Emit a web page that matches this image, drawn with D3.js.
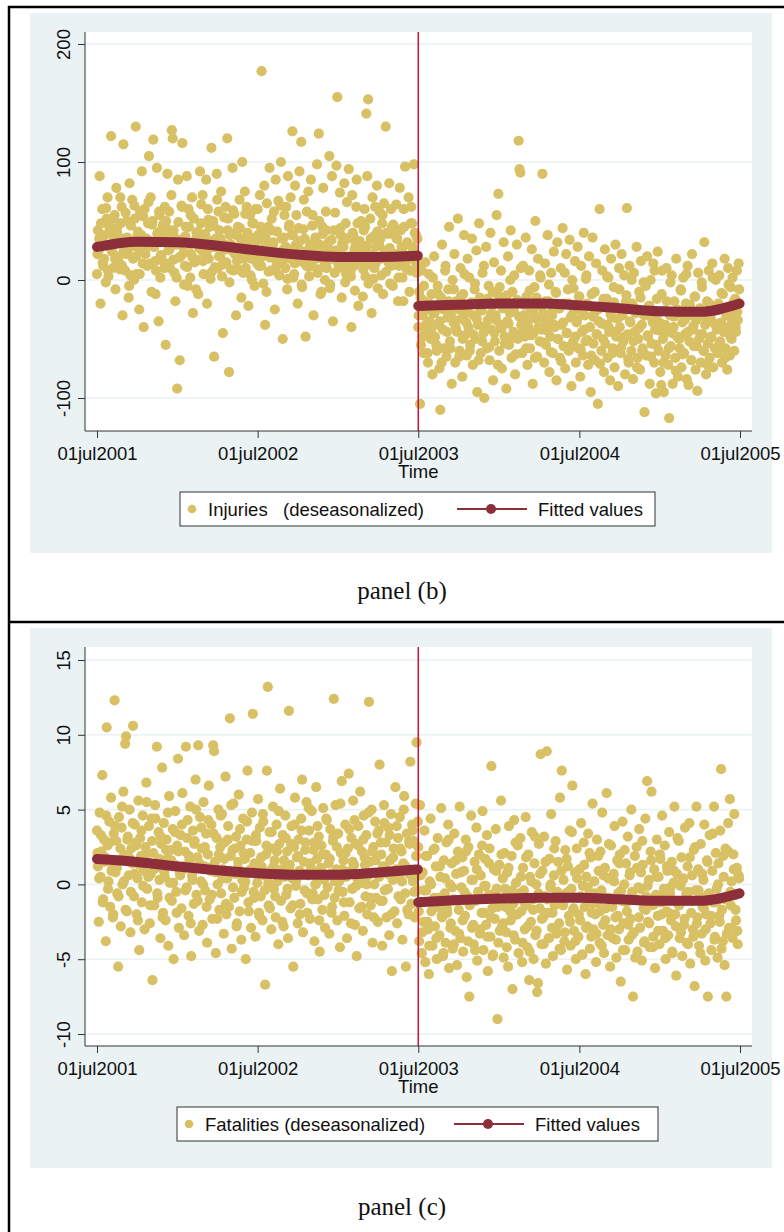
<!DOCTYPE html>
<html>
<head>
<meta charset="utf-8">
<script src="https://cdn.jsdelivr.net/npm/d3@7"></script>
<style>
  body { margin: 0; background: #fff; }
  svg { display: block; }
</style>
</head>
<body>
<svg id="chart" width="784" height="1232"></svg>
<script>
// x tick dates and labels
let tickDates = ["2001-07-01", "2002-07-01", "2003-07-01", "2004-07-01", "2005-07-01"]
let tickLabels = ["01jul2001", "01jul2002", "01jul2003", "01jul2004", "01jul2005"]
let breakDate = "2003-07-01"

// panel (b): injuries, deseasonalized (one value every 2 days)
let injuriesPre = [
  5, 42, 25, 88, -20, 30, 60, 12, 18, 38, -2, 52, 70, 3, 45, 28, 122, 24, 10, 33,
  55, -8, 78, 40, 20, 15, 9, 48, 62, -30, 115, 35, 8, 22, 50, 25, -15, 82, 4, 30,
  68, 18, 0, 52, 130, 5, 38, 27, -25, 58, 27, 92, 14, -40, 60, 22, 35, 12, 48, 105,
  33, 70, -10, 50, 119, 28, 16, 8, 95, 40, -35, 55, 2, 20, 44, 47, 15, 62, -55, 37,
  90, 25, 58, 10, 30, 127, 120, 42, 6, -18, 30, -92, 85, 19, -68, 20, 63, 116, 35, -4,
  12, 45, 88, -5, 60, 30, 2, 22, 70, -28, 52, 15, 34, 40, 17, -12, 35, 92, 48, 25,
  72, 5, 23, 38, 85, -20, 60, 18, 45, 1, 112, 28, 50, -65, 11, 35, 90, 10, 58, 42,
  20, 75, 3, -45, 28, 30, 62, 15, 120, 52, -78, 38, 9, 25, 95, 8, 56, 40, -30, 16,
  45, 22, 68, 35, -15, 100, 6, 28, 75, 10, 62, 40, -22, 31, 55, 18, 0, 32, 48, -5,
  60, 25, 14, 38, 12, 72, 45, 177, 20, -3, 80, -38, 35, 65, 28, 7, 95, 8, 42, 21,
  30, 58, -25, 85, 13, 15, 67, 4, 22, 100, 35, -50, 26, 55, 10, 62, -8, 88, 45, 18,
  70, 38, 126, 2, 5, 80, 30, 19, -20, 44, 92, 25, 117, -6, 15, 68, 35, -48, 12, 20,
  75, 3, 28, 85, 12, 55, -30, 24, 36, 18, 98, 9, 124, 30, -12, -10, 45, 78, 22, 0,
  58, 10, 16, 32, 105, -4, 20, 88, -35, 42, 6, 25, 97, 155, 14, 15, 74, 38, -15, 11,
  28, 82, -2, 5, 66, 35, 94, 20, 7, -40, 72, 38, 12, -9, 30, 85, 48, -22, 26, 25,
  50, 15, -14, 42, 60, 3, 141, 88, 153, 22, 13, 35, -28, 70, 1, 10, 62, 28, 80, -7,
  18, 58, 35, 4, 48, -12, 65, 25, 130, 40, 19, 15, 82, -3, 60, 45, -5, 14, 38, 22,
  64, 35, -18, 12, 78, 42, 28, 2, -18, 45, 96, 30, 9, 20, 70, -10, 8, 62, 48, 25,
  98, 40, 15, 6, 35
]
let injuriesPost = [
  -40, -10, -105, -55, 8, -30, -62, -18, 15, -45, -25, -70, 5, -35, -50, -12, -80, -28, 20, -48,
  -22, -60, -5, -38, -75, -110, -15, 30, -42, -58, -20, 12, -65, -32, -8, 45, -52, -27, -88, 0,
  -36, 22, -70, -18, -44, 52, -25, -60, 10, -33, -82, -12, 38, -47, -28, -64, 18, -40, 2, -55,
  -20, 35, -72, -30, -8, -50, 25, -95, -38, 48, -15, -62, -26, 6, -45, -100, -18, 28, -58, -34,
  -5, -68, 40, -42, -22, -85, 15, -52, -30, 55, -12, 73, -60, -38, 8, -75, -24, 32, -48, -16,
  -92, -35, 20, -55, -28, 42, -66, -10, -44, 4, -80, -20, 30, -50, 118, 94, 91, -38, -62, 12,
  -30, -48, 36, -14, -72, -40, 8, -58, -25, 26, -88, -45, -6, 50, -33, -65, 18, -22, -52, 2,
  -42, 90, -28, -70, 14, -55, -36, 38, -18, -78, -48, 6, -30, -62, 24, -40, -10, -85, 32, -50,
  -24, -66, 10, -38, 44, -56, -20, -75, 22, -45, -8, -60, 34, -32, -90, 0, -52, -26, 16, -70,
  -36, 28, -58, -14, -82, 12, -44, -64, 40, -30, -52, 4, -20, -72, 20, -40, -95, -12, 36, -54,
  -28, -68, 14, -46, -105, -35, 60, -22, -60, 8, -50, -78, 26, -38, -16, -66, 2, -44, -85, 18,
  -32, -58, -6, -74, 30, -48, -24, -90, 10, -40, -62, 22, -30, -52, 4, -80, -18, 61, -46, -70,
  12, -36, -60, -20, -84, 6, -44, -28, 28, -66, -50, -10, -76, 16, -38, -58, -2, -112, -30, -64,
  20, -48, -22, -88, 0, -54, -34, 14, -70, -42, -96, -16, 24, -60, -36, -78, -89, 8, -50, -95,
  -26, -64, 10, -44, -72, -117, -30, -56, 4, -88, -40, -18, -66, 18, -48, -82, -28, -58, -8, -74,
  -36, 2, -62, -46, -20, -84, 12, -89, -52, -30, -68, 22, -42, -56, -14, -76, -34, -94, 6, -50,
  -24, -70, -2, -46, -60, 32, -38, -80, -18, -54, 8, -66, -32, -48, 14, -74, -26, -58, 0, -42,
  -62, -20, 4, -52, -36, -70, -12, -44, 18, -58, -30, -76, 10, -40, -64, -6, -50, 2, -28, -60,
  -16, -44, 8, -34, 14
]
// the remaining days, read from the dense core (one value every 4 days, offset by 1 day)
let injuriesPreExtra = [
  22, 35, 48, 15, 30, 61, 8, 40, 27, 52, 18, 44, 33, 70, 12, 25, 57, 36, -5, 46,
  29, 63, 20, 41, 5, 38, 54, 24, 31, 66, 14, 47, 28, -12, 39, 58, 21, 34, 10, 50,
  43, 26, 72, 17, 36, 2, 49, 30, 62, 23, 37, 11, 45, 55, 19, 32, -8, 41, 27, 64,
  16, 39, 24, 51, 33, 7, 46, 28, 68, 20, 35, 13, 53, 26, 42, -2, 30, 59, 22, 38,
  9, 44, 31, 18, 56, 25, 37, 4, 48, 29, 21, 60, 34, 12, 40, 27, -10, 45, 19, 52,
  32, 8, 41, 23, 63, 16, 36, 28, 1, 47, 26, 38, 14, 55, 20, 33, -4, 43, 24, 58,
  11, 30, 46, 19, 35, 6, 50, 22, 39, 15, 42, 27, -7, 34, 18, 57, 25, 10, 44, 31,
  20, 48, 13, 36, 3, 40, 26, 62, 17, 33, 24, 9, 45, 29, -3, 52, 21, 37, 14, 41,
  30, 18, 55, 23, 7, 39, 27, 12, 47, 20, 35, 2, 43, 26, 60, 15, 32, 19, 48, 28,
  22, 38, 10
]
let injuriesPostExtra = [
  -30, -15, -48, -5, -38, -62, -20, -42, 2, -28, -55, -12, -35, -70, -25, 8, -44, -18, -58, -32,
  -8, -40, -22, -65, -14, -50, 5, -36, -27, -60, -19, -46, -3, -33, -68, -24, -52, 12, -39, -16,
  -57, -29, -10, -45, -34, -72, -6, -41, -23, -54, -13, -37, 0, -49, -26, -63, -17, -31, 10, -44,
  -21, -58, -35, -9, -47, -28, -66, -15, -40, 4, -32, -53, -18, -43, -4, -61, -26, -38, -11, -50,
  -24, -69, -36, 6, -45, -20, -56, -30, -7, -48, -34, -14, -59, -27, -42, 1, -51, -22, -64, -31,
  -10, -46, -25, -71, -37, -16, -54, 3, -40, -29, -62, -19, -44, -33, -8, -57, -26, -48, -13, -67,
  -35, 0, -52, -24, -74, -41, -15, -60, -30, -5, -47, -22, -65, -36, 8, -55, -28, -43, -12, -70,
  -38, -18, -58, -2, -45, -31, -77, -25, -50, -9, -63, -34, 5, -44, -21, -68, -39, -14, -56, -28,
  -46, -6, -60, -32, -72, -20, -49, 2, -37, -58, -25, -53, -11, -42, -66, -30, -4, -48, -35, -18,
  -40, -27, -8
]

// panel (c): fatalities, deseasonalized (one value every 2 days)
let fatalitiesPre = [
  3.6, 1.2, -2.5, 4.8, 0.5, 2.2, 7.3, -1.0, 3.0, 1.8, -3.8, 10.5, 2.6, 0.2, 4.2, -1.5, 5.8, 1.0, -2.2, 3.4,
  12.3, 0.8, 2.9, -0.6, -5.5, 4.5, 1.6, -2.8, 3.8, 0.0, 6.2, 2.0, 9.4, 9.9, -1.8, 3.2, 0.6, 5.0, -3.2, 2.4,
  1.4, 10.6, -0.8, 4.0, 2.8, -2.0, 0.4, 5.6, -4.4, 3.1, 1.9, -1.2, 4.6, 0.9, -3.0, 2.5, 6.8, -0.3, 1.5, 3.9,
  -2.6, 0.7, 4.4, -6.4, 2.1, -1.4, 5.3, 1.1, 9.2, -0.9, 3.5, 0.3, -3.6, 2.7, 7.8, -1.9, 4.1, 0.5, -2.4, 3.0,
  1.7, -4.1, 5.9, 0.1, 2.3, -1.1, 3.7, -5.0, 1.3, 4.9, -0.5, 2.6, 8.4, -2.9, 0.8, 3.3, -1.6, 6.1, 1.0, -3.4,
  2.2, 9.2, -0.2, 4.3, -2.1, 1.6, 5.2, -4.8, 0.6, 3.6, -1.3, 2.9, 7.0, -0.7, 1.8, 9.3, -3.1, 4.5, 0.2, 2.4,
  -2.7, 5.5, 1.2, -0.4, 3.4, -3.9, 2.0, 6.6, -1.0, 0.9, 4.0, -2.3, 9.3, 8.9, 1.5, -4.6, 3.1, 0.0, 5.0, -1.7,
  2.5, -0.6, 4.7, 1.0, -3.3, 2.8, 7.2, -2.0, 0.4, 3.9, -1.5, 11.1, 1.9, -4.3, 2.3, 5.4, -0.9, 0.7, 3.2, -2.6,
  1.1, 6.0, -1.8, 2.6, -3.7, 0.3, 4.4, -0.2, 1.7, -5.0, 3.0, 7.6, -1.2, 0.8, 2.1, -2.9, 4.8, 11.4, -0.5, 1.4,
  -3.5, 2.9, 0.1, 5.7, -1.9, 3.8, -0.8, 1.2, -2.4, 4.2, 0.6, -6.7, 2.0, 7.6, 13.2, -1.4, 3.5, 0.9, -3.0, 2.4,
  5.2, -0.3, 1.6, -2.2, 4.0, 0.2, -4.0, 2.7, 6.4, -1.1, 1.0, 3.3, -2.8, 0.5, 4.6, -0.7, 2.2, -3.6, 11.6, 1.3,
  -1.6, 3.9, 0.4, -5.5, 2.5, 5.8, -0.1, 1.8, -2.6, 3.0, 0.9, -1.3, 4.4, 7.0, -3.2, 1.5, -0.4, 2.8, 5.5, -1.9,
  0.6, 3.6, -2.3, 1.1, 4.9, -0.6, 2.3, -3.8, 0.0, 6.5, 1.7, -1.0, 3.2, -4.5, 0.8, 2.6, -1.7, 5.1, 0.3, -2.9,
  2.0, 4.3, -0.2, 1.4, -3.3, 3.7, 0.7, -1.5, 2.9, 12.4, -0.9, 5.3, 1.0, -2.4, 3.4, 0.2, -4.2, 2.1, 6.9, -0.5,
  1.6, -2.1, 4.0, 0.5, -3.6, 2.4, 7.4, -1.2, 0.9, 3.1, -0.3, 5.6, 1.3, -2.7, 2.7, -4.8, 0.4, 3.9, -1.6, 6.2,
  0.1, 2.2, -3.1, 4.6, 1.8, -0.8, 3.3, -2.0, 0.6, 12.2, 1.5, -1.4, 5.0, -3.9, 2.5, 0.0, 4.2, -0.9, 1.9, -2.5,
  3.6, 8.0, -1.1, 2.0, -4.1, 1.2, 5.3, -0.4, 2.8, -2.2, 0.7, 3.8, -3.4, 1.6, 4.7, -5.8, 0.3, 2.4, -1.8, 6.5,
  1.0, -2.6, 3.1, 0.5, 4.5, -1.0, 2.2, -3.7, 1.4, 5.9, -0.6, -5.5, 3.4, 0.8, -2.0, 2.7, 8.2, -1.3, 4.0, 0.2,
  2.9, -2.2, 5.4, 9.5, -0.4
]
let fatalitiesPost = [
  2.5, -3.8, 5.3, -1.2, -4.6, 0.8, -2.5, 3.6, -5.2, -0.4, 1.9, -3.0, -6.0, 0.2, 4.4, -1.8, -4.1, 2.3, -0.9, -2.8,
  1.2, -5.0, 3.1, -1.5, -3.4, 0.5, 5.1, -2.2, -4.8, 1.6, -0.6, -3.9, 2.8, -1.9, 4.0, -5.6, 0.0, -2.6, 1.4, -4.3,
  -1.0, 3.4, -3.1, 0.7, -5.4, 2.2, -1.7, 5.2, -3.6, -0.2, 1.8, -4.5, 0.9, -2.1, 3.0, -6.2, -0.8, 2.5, -7.5, -1.3,
  4.6, -2.9, 0.3, -4.0, 1.5, -1.1, 3.8, -5.1, -0.5, 2.0, -3.3, 0.6, -1.9, 4.9, -4.4, -0.1, 1.7, -2.7, 3.3, -5.8,
  -0.7, 2.4, -3.5, 7.9, -1.6, -4.7, 1.0, -2.3, 3.7, -0.3, -9.0, -3.9, 1.3, -1.2, 5.6, -2.8, 0.4, -4.9, 2.1, -1.5,
  -3.2, 0.8, -5.5, 3.9, -0.9, -2.4, 1.9, -7.0, -1.3, 4.3, -3.7, 0.1, -2.0, 2.6, -4.6, -0.6, 3.1, -1.8, -5.2, 1.1,
  -0.4, -3.0, 4.5, -1.4, -4.2, 2.0, -6.4, 0.5, -2.5, 3.5, -1.0, -5.0, 1.4, -3.4, 0.0, -7.2, -6.6, 2.7, -1.6, 8.7,
  -4.0, 0.9, -2.2, 3.2, -0.8, -5.3, 8.9, -1.9, -3.6, 1.7, -0.2, 4.7, -2.9, -4.8, 0.6, -1.4, 2.9, -3.3, -0.5, 1.5,
  -2.6, 5.8, -4.4, 7.6, -1.1, 0.3, -3.8, 2.3, -0.6, -5.7, 1.2, -2.1, 3.6, -4.1, -0.3, 6.6, -1.7, -3.1, 0.8, -5.0,
  2.4, -0.9, -3.5, 1.0, -2.4, 4.1, -4.7, -0.1, 2.8, -1.5, -6.0, 0.5, -2.8, 3.4, -0.7, -4.3, 1.8, -1.9, 5.4, -3.0,
  0.2, -2.0, -5.2, 3.0, -1.2, 0.9, -3.9, 2.2, -0.4, 4.8, -2.7, -4.6, 1.1, -1.6, 6.1, -3.4, 0.4, -0.9, -5.5, 2.6,
  -1.3, -3.6, 0.7, 3.9, -2.2, -4.9, 1.6, -0.6, -3.0, 2.0, -6.5, -1.1, 4.2, -2.6, 0.0, -4.4, 1.4, -1.8, 3.2, -3.7,
  0.6, -2.3, 5.0, -0.5, -7.5, -3.2, 1.9, -1.0, 2.5, -4.5, -0.2, 3.7, -2.9, 0.8, -5.1, 1.3, -1.6, -3.8, 4.4, -0.8,
  6.9, -2.5, 0.3, -4.2, 2.2, 6.2, -1.4, -3.5, 1.0, -5.6, -0.7, 3.0, -2.1, 0.5, -4.0, 1.7, -1.2, 4.6, -3.1, -0.3,
  2.6, -5.0, -1.8, 0.9, -3.4, 3.5, -0.6, -2.4, 1.5, -4.6, 0.1, 5.2, -2.0, -6.1, 0.7, -1.3, 2.9, -3.6, -0.1, 1.8,
  -4.8, 0.4, -2.7, 3.8, -1.1, -3.9, 1.2, -0.5, 4.1, -5.3, -1.9, 0.6, -3.0, 2.3, -6.8, -0.4, 5.2, -2.2, 1.0, -4.1,
  -0.8, 2.7, -3.3, -1.5, 0.3, 4.0, -5.1, -2.0, 1.6, -7.5, -0.6, 3.3, -2.6, -4.4, 0.9, -1.2, 5.2, -3.5, 2.1, -0.3,
  -4.9, 1.4, -2.1, 3.6, 7.7, -1.7, -3.8, 0.5, -5.4, 2.4, -7.5, -0.9, 4.1, -2.9, 5.7, -1.4, 0.2, -3.6, 2.0, 4.7,
  -0.7, -2.4, 1.1, -4.0, 0.6
]
let fatalitiesPreExtra = [
  2.1, 0.4, 3.3, -1.2, 1.5, 4.6, -0.3, 2.8, 0.9, -2.0, 3.9, 1.1, -0.8, 2.4, 5.2, 0.2, -1.7, 3.0, 1.8, -0.5,
  4.1, 0.7, 2.6, -2.4, 1.3, 3.6, -0.1, 2.0, 5.5, 0.5, -1.4, 2.9, 1.0, 4.4, -0.6, 1.7, 3.2, -2.2, 0.8, 2.3,
  4.8, -0.9, 1.6, 0.1, 3.5, -1.9, 2.2, 0.6, 4.0, 1.2, -0.4, 3.1, 1.9, -2.6, 0.3, 2.7, 5.0, -1.1, 1.4, 3.8,
  0.0, 2.5, -1.5, 4.3, 1.1, -0.7, 3.4, 0.8, -2.3, 2.0, 4.6, 0.4, 1.7, -1.3, 3.0, 0.9, 5.3, -0.2, 2.4, -2.8,
  1.5, 3.7, -0.5, 2.1, 0.2, 4.2, -1.8, 1.0, 2.9, -0.9, 3.3, 0.6, -2.1, 1.8, 4.7, -0.4, 2.6, 0.1, -1.6, 3.5,
  1.2, -0.8, 2.2, 4.9, 0.5, -2.5, 1.6, 3.1, -0.3, 0.9, 2.7, -1.4, 4.0, 0.3, 1.9, -2.0, 3.6, 0.7, 2.3, -0.6,
  5.1, 1.4, -1.0, 2.8, 0.0, 3.9, -2.4, 1.1, 2.0, -0.7, 4.4, 0.6, 1.7, -1.9, 3.2, 0.2, 2.5, -0.4, 5.4, 1.0,
  -1.2, 2.1, 0.8, 3.7, -2.6, 1.5, 4.3, -0.1, 2.6, 0.4, -1.5, 3.0, 1.3, 0.0, 4.8, -0.9, 2.2, -2.2, 1.6, 3.4,
  0.5, 2.8, -1.1, 4.1, 1.0, -0.3, 3.3, -2.0, 1.8, 0.7, 3.9, -0.8, 2.4, 0.2, 5.0, 1.2, -1.7, 2.9, 0.6, 3.6,
  -0.5, 1.9, 4.2
]
let fatalitiesPostExtra = [
  -1.8, 0.6, -3.2, -0.4, 1.9, -2.5, -4.1, 0.0, -1.3, 2.4, -3.6, -0.9, 1.2, -2.1, -4.6, 0.4, -1.6, 3.0, -2.9, -0.2,
  -4.0, 1.6, -1.1, -3.3, 0.8, -2.4, -0.5, 2.2, -3.8, -1.4, 0.3, -2.7, -4.4, 1.0, -0.8, -3.0, 2.6, -1.9, -0.1, -3.5,
  1.4, -2.2, -4.8, -0.6, 0.9, -1.5, -3.1, 2.0, -2.6, -0.3, -4.2, 1.1, -1.8, -0.4, -3.4, 2.8, -2.0, -0.9, 0.5, -3.9,
  -1.2, 1.8, -2.8, -4.5, 0.2, -1.7, 3.2, -3.1, -0.6, 0.7, -2.3, -4.0, 1.5, -1.0, -3.6, 0.0, -1.9, 2.4, -2.9, -0.7,
  -4.3, 0.9, -1.4, -3.2, 1.7, -0.5, -2.5, 3.5, -1.6, -3.8, 0.4, -2.0, -0.8, -4.7, 1.3, -2.9, -0.2, 2.1, -3.5, -1.3,
  -0.6, -3.3, 1.9, -1.8, -4.1, 0.6, -2.4, -0.9, 2.7, -3.0, -1.5, 0.2, -3.7, -2.1, 1.4, -0.4, -4.4, 2.3, -1.2, -2.7,
  0.8, -3.4, -1.0, -4.9, 1.1, -2.2, -0.3, 2.9, -3.9, -1.7, -0.1, -2.6, 1.6, -4.2, -1.3, 0.5, -3.1, 2.0, -2.0, -0.8,
  -3.6, 1.2, -1.9, -0.2, -4.5, 0.9, -2.8, 3.1, -1.4, -3.2, 0.3, -2.3, -0.6, -4.0, 1.8, -1.1, -3.5, 2.5, -2.6, -0.4,
  -4.6, 0.7, -1.6, -3.0, 1.5, -0.7, -2.1, 3.4, -3.7, -1.2, 0.0, -2.5, -4.3, 1.9, -1.0, -3.3, 2.2, -0.5, -2.9, 1.0,
  -1.7, -3.1, 0.4
]

// fitted values, read at quarterly points on each side of the break
let fitPreDates = ["2001-07-01", "2001-10-01", "2002-01-01", "2002-04-01", "2002-07-01", "2002-10-01", "2003-01-01", "2003-04-01", "2003-06-30"]
let fitPostDates = ["2003-07-01", "2003-10-01", "2004-01-01", "2004-04-01", "2004-07-01", "2004-10-01", "2005-01-01", "2005-04-01", "2005-06-30"]
let fitInjuriesPre = [28, 32.5, 32, 29, 25, 21.5, 19.5, 19.5, 20.5]
let fitInjuriesPost = [-22, -21, -20, -20, -21.5, -24, -26.5, -27, -20]
let fitFatalitiesPre = [1.7, 1.5, 1.2, 0.95, 0.75, 0.65, 0.65, 0.8, 1.0]
let fitFatalitiesPost = [-1.2, -1.05, -0.95, -0.9, -0.9, -1.0, -1.1, -1.1, -0.6]

let injuriesTicks = [-100, 0, 100, 200]
let fatalitiesTicks = [-10, -5, 0, 5, 10, 15]

let parseDate = d3.timeParse("%Y-%m-%d")
let pointColor = "#d8c064"
let fitColor = "#8c2f3b"
let breakColor = "#c8143c"
let bgColor = "#eaf2f3"
let fontSans = "'Liberation Sans', Arial, sans-serif"

let svg = d3.select("#chart")

// values -> {date, value}, one value every `step` days from `startDate`
function seriesPoints(values, startDate, step) {
    let start = parseDate(startDate)
    return values.map(function (v, i) {
        return { date: d3.timeDay.offset(start, i * step), value: v }
    })
}

function fitPoints(dates, values) {
    return dates.map(function (d, i) {
        return { date: parseDate(d), value: values[i] }
    })
}

function DrawPanel(opt) {
    let g = svg.append("g").attr("transform", "translate(0," + opt.top + ")")

    // graph region and plot region
    g.append("rect")
        .attr("x", 30).attr("y", 6)
        .attr("width", 742).attr("height", 540)
        .style("fill", bgColor)
    g.append("rect")
        .attr("x", 85).attr("y", 25)
        .attr("width", 667).attr("height", 399)
        .style("fill", "#fff")

    let x = d3.scaleTime()
        .domain([parseDate(tickDates[0]), parseDate(tickDates[4])])
        .range([97, 740])
    let y = d3.scaleLinear()
        .domain(opt.yDomain)
        .range(opt.yRange)

    // gridlines
    g.selectAll(".grid")
        .data(opt.ticks)
        .enter()
        .append("line")
        .attr("x1", 85).attr("x2", 752)
        .attr("y1", function (d) { return y(d) })
        .attr("y2", function (d) { return y(d) })
        .style("stroke", bgColor)
        .style("stroke-width", 1.6)

    // scatter
    let pts = seriesPoints(opt.preExtra, "2001-07-02", 4)
        .concat(seriesPoints(opt.postExtra, "2003-07-02", 4))
        .concat(seriesPoints(opt.pre, tickDates[0], 2))
        .concat(seriesPoints(opt.post, breakDate, 2))
    g.selectAll(".dot")
        .data(pts)
        .enter()
        .append("circle")
        .attr("cx", function (d) { return x(d.date) })
        .attr("cy", function (d) { return y(d.value) })
        .attr("r", 5.1)
        .style("fill", pointColor)

    // break line
    g.append("line")
        .attr("x1", x(parseDate(breakDate))).attr("x2", x(parseDate(breakDate)))
        .attr("y1", 25).attr("y2", 424)
        .style("stroke", breakColor)
        .style("stroke-width", 1.5)

    // fitted values
    let fPre = fitPoints(fitPreDates, opt.fitPre)
    let fPost = fitPoints(fitPostDates, opt.fitPost)
    let line = d3.line()
        .x(function (d) { return x(d.date) })
        .y(function (d) { return y(d.value) })
        .curve(d3.curveMonotoneX)
    g.append("path")
        .attr("d", d3.line().x(function (d) { return x(d.date) }).y(function (d) { return y(d.value) })([fPre[fPre.length - 1], fPost[0]]))
        .style("fill", "none")
        .style("stroke", fitColor)
        .style("stroke-width", 1.8)
    ;[fPre, fPost].forEach(function (seg) {
        g.append("path")
            .attr("d", line(seg))
            .style("fill", "none")
            .style("stroke", fitColor)
            .style("stroke-width", 10)
            .style("stroke-linecap", "round")
    })

    // axes
    let yAxis = d3.axisLeft(y).tickValues(opt.ticks).tickSize(7).tickFormat(function (d) { return String(d) })
    let gy = g.append("g").attr("transform", "translate(85,0)").call(yAxis)
    gy.select(".domain").attr("d", "M0,25V424").style("stroke", "#333")
    gy.selectAll(".tick line").style("stroke", "#333")
    gy.selectAll(".tick text")
        .attr("x", null).attr("dy", null)
        .attr("transform", "translate(-15,0) rotate(-90)")
        .attr("text-anchor", "middle")
        .style("font-family", fontSans)
        .style("font-size", "18.5px")
        .style("fill", "#111")

    let xAxis = d3.axisBottom(x)
        .tickValues(tickDates.map(parseDate))
        .tickSize(7)
        .tickFormat(function (d, i) { return tickLabels[i] })
    let gx = g.append("g").attr("transform", "translate(0,424)").call(xAxis)
    gx.select(".domain").attr("d", "M85,0H752").style("stroke", "#333")
    gx.selectAll(".tick line").style("stroke", "#333")
    gx.selectAll(".tick text")
        .attr("y", 29).attr("dy", null)
        .style("font-family", fontSans)
        .style("font-size", "18.5px")
        .style("fill", "#111")

    g.append("text")
        .text("Time")
        .attr("x", x(parseDate(breakDate)))
        .attr("y", 471)
        .attr("text-anchor", "middle")
        .style("font-family", fontSans)
        .style("font-size", "18.5px")
        .style("fill", "#111")

    // legend
    let lg = g.append("g").attr("transform", "translate(" + opt.legendX + ",485)")
    lg.append("rect")
        .attr("x", 0).attr("y", 0)
        .attr("width", opt.legendW).attr("height", 34)
        .style("fill", "#fff")
        .style("stroke", "#333")
        .style("stroke-width", 1)
    lg.append("circle")
        .attr("cx", 12).attr("cy", 17).attr("r", 4.3)
        .style("fill", pointColor)
    lg.append("text")
        .attr("xml:space", "preserve")
        .text(opt.label)
        .attr("x", 28).attr("y", 23.5)
        .style("font-family", fontSans)
        .style("font-size", "18.5px")
        .style("white-space", "pre")
        .style("fill", "#111")
    lg.append("line")
        .attr("x1", 277).attr("x2", 347)
        .attr("y1", 17).attr("y2", 17)
        .style("stroke", fitColor)
        .style("stroke-width", 1.8)
    lg.append("circle")
        .attr("cx", 311).attr("cy", 17).attr("r", 5)
        .style("fill", fitColor)
    lg.append("text")
        .text("Fitted values")
        .attr("x", 358).attr("y", 23.5)
        .style("font-family", fontSans)
        .style("font-size", "18.5px")
        .style("fill", "#111")

    // panel caption
    g.append("text")
        .text(opt.caption)
        .attr("x", 402)
        .attr("y", opt.captionY)
        .attr("text-anchor", "middle")
        .style("font-family", "'Liberation Serif', 'Times New Roman', serif")
        .style("font-size", "25px")
        .style("fill", "#111")
}

DrawPanel({
    top: 7, pre: injuriesPre, post: injuriesPost,
    preExtra: injuriesPreExtra, postExtra: injuriesPostExtra,
    fitPre: fitInjuriesPre, fitPost: fitInjuriesPost,
    yDomain: [-100, 200], yRange: [391, 37], ticks: injuriesTicks,
    legendX: 180, legendW: 475, label: "Injuries   (deseasonalized)",
    caption: "panel (b)", captionY: 592
})
DrawPanel({
    top: 622, pre: fatalitiesPre, post: fatalitiesPost,
    preExtra: fatalitiesPreExtra, postExtra: fatalitiesPostExtra,
    fitPre: fitFatalitiesPre, fitPost: fitFatalitiesPost,
    yDomain: [-10, 15], yRange: [412, 38], ticks: fatalitiesTicks,
    legendX: 177, legendW: 481, label: "Fatalities (deseasonalized)",
    caption: "panel (c)", captionY: 593
})

// outer frame
svg.append("path")
    .attr("d", "M9,1232V7H784M9,622H784")
    .style("fill", "none")
    .style("stroke", "#000")
    .style("stroke-width", 2.5)
</script>
</body>
</html>
